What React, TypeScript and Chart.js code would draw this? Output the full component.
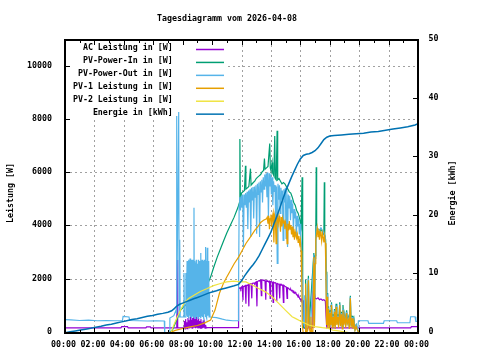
import React, { useEffect, useRef } from "react";
import { Chart, registerables } from "chart.js";

Chart.register(...registerables);

const TITLE = "Tagesdiagramm vom 2026-04-08";
const Y_TITLE = "Leistung [W]";
const Y2_TITLE = "Energie [kWh]";

const X_TICKS = [0, 2, 4, 6, 8, 10, 12, 14, 16, 18, 20, 22, 24];
const X_MINOR = [1, 3, 5, 7, 9, 11, 13, 15, 17, 19, 21, 23];
const X_TICK_LABELS = ["00:00", "02:00", "04:00", "06:00", "08:00", "10:00", "12:00", "14:00", "16:00", "18:00", "20:00", "22:00", "00:00"];
const Y_TICKS = [0, 2000, 4000, 6000, 8000, 10000];
const Y2_TICKS = [0, 10, 20, 30, 40, 50];

const SERIES_NAMES = [
  "AC Leistung in [W]",
  "PV-Power-In in [W]",
  "PV-Power-Out in [W]",
  "PV-1 Leistung in [W]",
  "PV-2 Leistung in [W]",
  "Energie in [kWh]",
];
const SERIES_COLORS = ["#9400d3", "#009e73", "#56b4e9", "#e69f00", "#f0e442", "#0072b2"];

// [hour, W]
const acLeistung: [number, number][] = [
  [0, 190], [3.8, 190], [3.85, 240], [4.25, 240], [4.3, 190], [5.5, 190], [5.55, 230], [5.8, 230], [5.85, 190],
  [7.6, 190], [7.63, 2740], [7.66, 190], [8.1, 190],
  [8.12, 450], [8.16, 150], [8.2, 520], [8.24, 180], [8.28, 400], [8.32, 160], [8.36, 560], [8.4, 200], [8.44, 480],
  [8.48, 170], [8.52, 620], [8.56, 200], [8.6, 500], [8.64, 180], [8.68, 560], [8.72, 220], [8.76, 720], [8.8, 200],
  [8.84, 520], [8.88, 180], [8.92, 600], [8.96, 200], [9.0, 480], [9.04, 170], [9.08, 560], [9.12, 200], [9.16, 450],
  [9.2, 180], [9.24, 520], [9.28, 160], [9.32, 400], [9.36, 180], [9.4, 480], [9.44, 200], [9.48, 380], [9.52, 180],
  [9.56, 300], [9.6, 190], [9.7, 200], [11.77, 200], [11.8, 1650],
  [11.85, 1680], [11.9, 1700], [11.95, 1650], [12.0, 1720], [12.05, 1750], [12.1, 1230], [12.12, 1740], [12.2, 1760],
  [12.25, 1780], [12.3, 1100], [12.33, 1790], [12.4, 1800], [12.45, 1810], [12.5, 1000], [12.53, 1830], [12.6, 1850],
  [12.65, 1840], [12.7, 1300], [12.73, 1860], [12.8, 1870], [12.85, 1880], [12.9, 1850], [12.95, 1900], [13.0, 1920],
  [13.05, 1000], [13.08, 1930], [13.15, 1950], [13.2, 1970], [13.25, 1960], [13.3, 1980], [13.35, 1400], [13.38, 1980],
  [13.45, 1990], [13.5, 1970], [13.55, 1980], [13.6, 1950], [13.65, 1250], [13.68, 1960], [13.75, 1940], [13.8, 1950],
  [13.85, 1920], [13.9, 1940], [13.95, 1300], [13.98, 1930], [14.05, 1920], [14.1, 1900], [14.15, 1150], [14.18, 1910],
  [14.25, 1880], [14.3, 1890], [14.35, 1850], [14.4, 1200], [14.43, 1860], [14.5, 1840], [14.55, 1820], [14.6, 1300],
  [14.63, 1830], [14.7, 1800], [14.75, 1810], [14.8, 1780], [14.85, 1150], [14.88, 1790], [14.95, 1760], [15.0, 1740],
  [15.05, 1720], [15.1, 1300], [15.13, 1700], [15.2, 1680], [15.25, 1650], [15.3, 1620], [15.35, 1640], [15.4, 1580],
  [15.45, 1600], [15.5, 1550], [15.55, 1570], [15.6, 1500], [15.65, 1530], [15.7, 1480], [15.75, 1450], [15.8, 1420],
  [15.85, 1350], [15.9, 1380], [15.95, 1300], [16.0, 1250], [16.05, 1280], [16.1, 1200], [16.15, 1230], [16.2, 1200],
  [16.25, 190], [16.5, 150], [16.6, 300], [16.65, 150], [16.8, 200], [16.85, 1500], [16.9, 1420], [16.95, 1550],
  [17.0, 1300], [17.1, 1280], [17.2, 1320], [17.3, 1250], [17.4, 1280], [17.5, 1230], [17.6, 1250], [17.7, 1200],
  [17.75, 640], [17.8, 190], [20, 190], [22, 190], [23.5, 190], [23.55, 240], [24, 240],
];

const pvPowerIn: [number, number][] = [
  [0, 0], [7.1, 0], [7.3, 110], [7.6, 500], [7.86, 860], [8.2, 1050], [8.75, 1230], [9.1, 1400], [9.42, 1610],
  [9.7, 1850], [9.9, 2100], [10.1, 2450], [10.35, 2850], [10.6, 3200], [10.8, 3480], [11.0, 3750], [11.25, 4050],
  [11.5, 4350], [11.75, 4700], [11.86, 4900], [11.89, 7280], [11.92, 5000], [12.0, 5250], [12.1, 5300], [12.2, 5350],
  [12.27, 6280], [12.3, 5400], [12.4, 5450], [12.5, 5500], [12.61, 6170], [12.65, 5550], [12.8, 5650], [12.9, 5700],
  [13.0, 5800], [13.1, 5850], [13.2, 5900], [13.3, 5950], [13.4, 6050], [13.5, 6100], [13.56, 6550], [13.6, 6150],
  [13.7, 6200], [13.8, 6250], [13.92, 7110], [13.96, 6200], [14.0, 6100], [14.08, 6400], [14.12, 6000], [14.2, 5900],
  [14.26, 7400], [14.3, 5800], [14.36, 5750], [14.42, 7590], [14.46, 5750], [14.55, 5800], [14.65, 5700], [14.75, 5600],
  [14.85, 5650], [14.95, 5600], [15.05, 5500], [15.15, 5400], [15.25, 5300], [15.35, 5250], [15.45, 5100], [15.55, 4900],
  [15.65, 4800], [15.75, 4600], [15.85, 4500], [15.95, 4300], [16.05, 4000], [16.12, 5850], [16.16, 1500], [16.2, 200],
  [16.32, 200], [16.36, 2000], [16.4, 100], [16.55, 2150], [16.6, 300], [16.92, 3000], [16.96, 400], [17.0, 2900],
  [17.05, 3700], [17.08, 6220], [17.11, 3900], [17.2, 3800], [17.3, 3750], [17.4, 3900], [17.5, 3800], [17.6, 3700],
  [17.63, 5660], [17.66, 3700], [17.72, 3500], [17.76, 2300], [17.8, 400], [17.82, 1500], [17.86, 300], [17.92, 1000],
  [17.97, 250], [18.02, 850], [18.07, 400], [18.12, 1150], [18.17, 300], [18.22, 700], [18.27, 350], [18.32, 900],
  [18.37, 250], [18.43, 1100], [18.48, 400], [18.55, 700], [18.6, 300], [18.68, 1150], [18.73, 350], [18.8, 800],
  [18.85, 250], [18.9, 1050], [18.95, 400], [19.02, 700], [19.08, 300], [19.15, 850], [19.2, 450], [19.28, 600],
  [19.33, 250], [19.4, 1400], [19.45, 300], [19.52, 650], [19.58, 250], [19.65, 500], [19.72, 150], [19.8, 300],
  [19.9, 100], [20.05, 0], [24, 0],
];

const pvPowerOut: [number, number][] = [
  [0, 500], [0.4, 490], [1.0, 470], [1.6, 480], [2.2, 460], [2.8, 470], [3.4, 460], [3.9, 460], [3.95, 620],
  [4.35, 600], [4.4, 470], [5.0, 460], [5.6, 450], [6.2, 460], [6.75, 450], [6.78, 0], [7.1, 0], [7.13, 560],
  [7.4, 650], [7.55, 860], [7.58, 8150], [7.61, 700], [7.73, 8300], [7.76, 600], [7.8, 3500], [7.83, 600], [8.07, 600],
  [8.09, 2250], [8.12, 600], [8.2, 600], [8.22, 2250], [8.25, 650],
  [8.3, 2700], [8.325, 600], [8.35, 2650], [8.375, 700], [8.4, 2750], [8.425, 550], [8.45, 2700], [8.475, 650],
  [8.5, 2800], [8.525, 600], [8.55, 2650], [8.575, 700], [8.6, 2750], [8.625, 550], [8.65, 2700], [8.675, 620],
  [8.7, 2750], [8.725, 600], [8.77, 4700], [8.79, 700], [8.82, 2700], [8.845, 550], [8.87, 2650], [8.895, 650],
  [8.92, 2750], [8.945, 600], [8.97, 2700], [8.995, 700], [9.02, 2600], [9.045, 550], [9.07, 2750], [9.095, 620],
  [9.12, 2700], [9.145, 600], [9.17, 2650], [9.195, 700], [9.22, 3000], [9.245, 550], [9.27, 2700], [9.295, 620],
  [9.32, 2750], [9.345, 600], [9.37, 2650], [9.395, 650], [9.42, 2700], [9.445, 550], [9.47, 2750], [9.495, 700],
  [9.52, 2600], [9.545, 600], [9.57, 3230], [9.595, 620], [9.62, 2700], [9.645, 550], [9.67, 3200], [9.695, 650],
  [9.72, 2650], [9.745, 700], [9.77, 2700], [9.795, 600], [9.82, 1500], [9.86, 600],
  [10.3, 580], [10.7, 520], [11.0, 480], [11.4, 460], [11.77, 460], [11.8, 1600], [11.84, 4800],
  [11.88, 5100], [11.93, 4600], [11.98, 5150], [12.03, 4700], [12.08, 5200], [12.13, 3230], [12.18, 5200], [12.23, 4800],
  [12.28, 5250], [12.33, 4700], [12.38, 5300], [12.43, 3900], [12.48, 5350], [12.53, 4900], [12.58, 5400], [12.63, 3600],
  [12.68, 5450], [12.73, 5000], [12.78, 5480], [12.83, 4300], [12.88, 5500], [12.93, 5100], [12.98, 5550], [13.03, 3730],
  [13.08, 5600], [13.13, 5200], [13.18, 5650], [13.23, 3600], [13.28, 5700], [13.33, 5300], [13.38, 5750], [13.43, 4900],
  [13.48, 5850], [13.53, 5400], [13.58, 5950], [13.63, 5500], [13.68, 6000], [13.73, 5100], [13.78, 6030], [13.83, 4350],
  [13.88, 6000], [13.93, 5500], [13.98, 5950], [14.03, 5200], [14.08, 5850], [14.13, 4800], [14.18, 5700], [14.23, 5300],
  [14.28, 5550], [14.33, 3980], [14.38, 5500], [14.43, 2610], [14.48, 5600], [14.53, 5000], [14.58, 5550], [14.63, 4490],
  [14.68, 5450], [14.73, 5000], [14.78, 5350], [14.83, 3480], [14.88, 5400], [14.93, 4900], [14.98, 5450], [15.03, 3550],
  [15.08, 5350], [15.13, 3230], [15.18, 5200], [15.23, 4700], [15.28, 5150], [15.33, 4230], [15.38, 5000], [15.43, 4500],
  [15.48, 4850], [15.53, 3800], [15.58, 4650], [15.63, 4300], [15.68, 4550], [15.73, 3600], [15.78, 4400], [15.83, 4000],
  [15.88, 4300], [15.93, 3700], [15.98, 4100], [16.03, 3600], [16.08, 3300], [16.12, 2000], [16.16, 1400], [16.2, 500],
  [16.25, 300], [16.3, 1420], [16.33, 200], [16.4, 100], [16.55, 2050], [16.6, 300], [16.7, 200], [16.92, 2950],
  [16.96, 300], [17.0, 2800], [17.05, 3600], [17.1, 3980], [17.2, 3900], [17.3, 3850], [17.4, 3950], [17.5, 3850],
  [17.6, 3750], [17.7, 3600], [17.75, 2200], [17.8, 350], [17.82, 1450], [17.86, 250], [17.92, 950], [17.97, 200],
  [18.02, 800], [18.07, 350], [18.12, 1100], [18.17, 250], [18.22, 650], [18.27, 300], [18.32, 850], [18.37, 200],
  [18.43, 1030], [18.48, 350], [18.55, 650], [18.6, 250], [18.68, 1100], [18.73, 300], [18.8, 750], [18.85, 200],
  [18.9, 900], [18.95, 350], [19.02, 650], [19.08, 250], [19.15, 800], [19.2, 400], [19.28, 550], [19.33, 200],
  [19.4, 1350], [19.45, 250], [19.52, 600], [19.58, 200], [19.65, 450], [19.72, 150], [19.8, 300], [19.9, 100],
  [19.95, 460], [20.6, 460], [20.65, 360], [21.65, 360], [21.7, 460], [22.55, 460], [22.6, 385], [23.45, 385],
  [23.5, 610], [23.8, 610], [23.85, 440], [24, 440],
];

const pv1Leistung: [number, number][] = [
  [0, 0], [7.05, 0], [7.5, 100], [8.0, 170], [8.5, 230], [9.0, 280], [9.5, 380], [9.9, 490], [10.2, 860], [10.5, 1490],
  [10.8, 1900], [11.0, 2100], [11.2, 2300], [11.5, 2600], [11.8, 2850], [12.0, 3050], [12.3, 3360], [12.6, 3600],
  [12.9, 3850], [13.1, 3980], [13.3, 4150], [13.5, 4230], [13.7, 4290],
  [13.75, 4350], [13.8, 4100], [13.85, 4400], [13.9, 3900], [13.95, 4300], [14.0, 4450], [14.05, 4000], [14.1, 4350],
  [14.15, 4500], [14.2, 3400], [14.25, 4400], [14.3, 4250], [14.35, 3350], [14.4, 4450], [14.45, 4300], [14.5, 4100],
  [14.55, 4400], [14.6, 4200], [14.65, 3800], [14.7, 4350], [14.75, 4000], [14.8, 4300], [14.85, 4150], [14.9, 4200],
  [14.95, 3900], [15.0, 4150], [15.05, 4000], [15.1, 3350], [15.15, 4100], [15.2, 3850], [15.25, 4200], [15.3, 3900],
  [15.35, 4050], [15.4, 3700], [15.45, 4000], [15.5, 3600], [15.55, 3900], [15.6, 3500], [15.65, 3800], [15.7, 3650],
  [15.75, 3550], [15.8, 3700], [15.85, 3400], [15.9, 3650], [15.95, 3350], [16.0, 3500], [16.05, 3100], [16.1, 1900],
  [16.13, 300], [16.2, 0], [16.32, 0], [16.36, 1860], [16.4, 0], [16.5, 100], [16.55, 1980], [16.6, 200], [16.68, 0],
  [16.72, 610], [16.76, 100], [16.85, 0], [16.92, 2850], [16.96, 200], [17.0, 2600], [17.05, 3480], [17.1, 3700],
  [17.15, 3930], [17.2, 3600], [17.25, 3850], [17.3, 3500], [17.35, 3800], [17.4, 3700], [17.45, 3450], [17.5, 3750],
  [17.55, 3600], [17.6, 3400], [17.65, 3650], [17.7, 3370], [17.74, 2100], [17.78, 300], [17.82, 1360], [17.86, 200],
  [17.92, 900], [17.97, 150], [18.02, 750], [18.07, 300], [18.12, 1050], [18.17, 200], [18.22, 600], [18.27, 250],
  [18.32, 800], [18.37, 150], [18.43, 980], [18.48, 300], [18.55, 600], [18.6, 200], [18.68, 1050], [18.73, 250],
  [18.8, 700], [18.85, 150], [18.9, 850], [18.95, 300], [19.02, 600], [19.08, 200], [19.15, 750], [19.2, 350],
  [19.28, 500], [19.33, 150], [19.4, 1300], [19.45, 200], [19.52, 550], [19.58, 150], [19.65, 400], [19.72, 100],
  [19.8, 250], [19.9, 80], [20.05, 0], [24, 0],
];

const pv2Leistung: [number, number][] = [
  [0, 0], [7.2, 0], [7.4, 300], [7.64, 610], [7.85, 850], [8.09, 1110], [8.4, 1300], [8.77, 1420], [9.2, 1560],
  [9.67, 1670], [10.1, 1780], [10.57, 1860], [11.0, 1920], [11.47, 1945], [11.93, 1920], [12.3, 1920], [12.72, 1800],
  [13.17, 1670], [13.63, 1545], [14.08, 1360], [14.53, 1110], [14.98, 860], [15.44, 610], [15.66, 550], [16.1, 420],
  [16.57, 300], [17.0, 240], [17.5, 200], [17.9, 175], [18.2, 110], [18.6, 80], [19.0, 40], [19.5, 0], [24, 0],
];

// [hour, kWh]
const energie: [number, number][] = [
  [0, 0.05], [0.35, 0.2], [0.7, 0.35], [1.05, 0.5], [1.4, 0.65], [1.75, 0.8], [2.1, 1.0], [2.45, 1.15], [2.8, 1.35],
  [3.15, 1.5], [3.5, 1.7], [3.85, 1.9], [4.2, 2.1], [4.55, 2.3], [4.9, 2.45], [5.25, 2.65], [5.6, 2.85], [5.95, 3.0],
  [6.3, 3.2], [6.65, 3.35], [7.0, 3.55], [7.25, 3.8], [7.45, 4.2], [7.6, 4.6], [7.8, 4.9], [8.0, 5.1], [8.25, 5.35],
  [8.5, 5.6], [8.75, 5.85], [9.0, 6.05], [9.25, 6.3], [9.5, 6.55], [9.75, 6.8], [10.0, 7.0], [10.3, 7.2], [10.6, 7.45],
  [10.9, 7.65], [11.2, 7.85], [11.5, 8.05], [11.8, 8.3], [12.0, 8.9], [12.2, 9.7], [12.4, 10.4], [12.6, 11.1],
  [12.8, 11.7], [13.0, 12.4], [13.2, 13.2], [13.4, 14.2], [13.6, 15.2], [13.8, 16.2], [14.0, 17.2], [14.2, 18.6],
  [14.4, 19.9], [14.6, 21.3], [14.8, 22.8], [15.0, 24.2], [15.2, 25.4], [15.4, 26.6], [15.6, 27.7], [15.8, 28.8],
  [16.0, 29.7], [16.2, 30.3], [16.4, 30.5], [16.6, 30.6], [16.8, 30.8], [17.0, 31.1], [17.2, 31.6], [17.4, 32.3],
  [17.6, 33.0], [17.8, 33.4], [18.0, 33.6], [18.3, 33.7], [18.8, 33.8], [19.3, 33.9], [19.8, 34.0], [20.3, 34.1],
  [20.8, 34.3], [21.3, 34.4], [21.8, 34.6], [22.3, 34.8], [22.8, 35.0], [23.3, 35.2], [23.8, 35.5], [24, 35.7],
];

const FONT = 'bold 8.3px "DejaVu Sans Mono", monospace';
const LEG_RIGHT = 228;
const LEG_BOTTOM = 120;

function toPoints(s: [number, number][]) {
  return s.map(([h, v]) => ({ x: h, y: v }));
}

const gnuplotPlugin = {
  id: "gnuplotLook",
  beforeDraw(chart: any) {
    const { ctx, width, height } = chart;
    ctx.save();
    ctx.fillStyle = "#ffffff";
    ctx.fillRect(0, 0, width, height);
    ctx.restore();
  },
  beforeDatasetsDraw(chart: any) {
    const { ctx, chartArea: a, scales } = chart;
    const xs = scales.x;
    const ys = scales.y;
    ctx.save();
    ctx.strokeStyle = "#a0a0a0";
    ctx.lineWidth = 1;
    ctx.setLineDash([2, 3]);
    for (const t of X_TICKS) {
      if (t <= 0 || t >= 24) continue;
      const px = Math.round(xs.getPixelForValue(t)) + 0.5;
      const top = px < LEG_RIGHT ? LEG_BOTTOM : a.top;
      ctx.beginPath();
      ctx.moveTo(px, top);
      ctx.lineTo(px, a.bottom);
      ctx.stroke();
    }
    for (const v of Y_TICKS) {
      if (v <= 0) continue;
      const py = Math.round(ys.getPixelForValue(v)) - 0.5;
      const left = py < LEG_BOTTOM ? LEG_RIGHT : a.left;
      ctx.beginPath();
      ctx.moveTo(left, py);
      ctx.lineTo(a.right, py);
      ctx.stroke();
    }
    ctx.setLineDash([]);
    ctx.fillStyle = "#ffffff";
    ctx.fillRect(a.left, a.top, LEG_RIGHT - a.left, LEG_BOTTOM - a.top);
    ctx.font = FONT;
    ctx.textAlign = "right";
    ctx.textBaseline = "alphabetic";
    for (let i = 0; i < SERIES_NAMES.length; i++) {
      const base = 50 + i * 12.93;
      ctx.fillStyle = "#000000";
      ctx.fillText(SERIES_NAMES[i], 172.8, base);
      ctx.strokeStyle = SERIES_COLORS[i];
      ctx.lineWidth = 1.5;
      ctx.beginPath();
      ctx.moveTo(196, base - 0.5);
      ctx.lineTo(224, base - 0.5);
      ctx.stroke();
    }
    ctx.restore();
  },
  afterDatasetsDraw(chart: any) {
    const { ctx, chartArea: a, scales } = chart;
    const xs = scales.x;
    const ys = scales.y;
    const y2 = scales.y2;
    ctx.save();
    ctx.strokeStyle = "#000000";
    ctx.lineWidth = 1;
    ctx.beginPath();
    for (const t of X_TICKS) {
      const px = Math.round(xs.getPixelForValue(t)) + 0.5;
      ctx.moveTo(px, a.bottom);
      ctx.lineTo(px, a.bottom - 5);
      ctx.moveTo(px, a.top);
      ctx.lineTo(px, a.top + 5);
    }
    for (const t of X_MINOR) {
      const px = Math.round(xs.getPixelForValue(t)) + 0.5;
      ctx.moveTo(px, a.bottom);
      ctx.lineTo(px, a.bottom - 3);
      ctx.moveTo(px, a.top);
      ctx.lineTo(px, a.top + 3);
    }
    for (const v of Y_TICKS) {
      const py = Math.round(ys.getPixelForValue(v)) - 0.5;
      ctx.moveTo(a.left, py);
      ctx.lineTo(a.left + 5, py);
    }
    for (const v of Y2_TICKS) {
      const py = Math.round(y2.getPixelForValue(v)) - 0.5;
      ctx.moveTo(a.right, py);
      ctx.lineTo(a.right - 5, py);
    }
    ctx.stroke();
    ctx.lineWidth = 2;
    ctx.strokeRect(a.left, a.top, a.right - a.left, a.bottom - a.top);
    ctx.fillStyle = "#000000";
    ctx.font = FONT;
    ctx.textBaseline = "alphabetic";
    ctx.textAlign = "right";
    for (const v of Y_TICKS) {
      const py = ys.getPixelForValue(v);
      ctx.fillText(String(v), 52, py + 1);
    }
    ctx.textAlign = "left";
    for (const v of Y2_TICKS) {
      const py = y2.getPixelForValue(v);
      ctx.fillText(String(v), 428.5, py + 1);
    }
    ctx.textAlign = "center";
    X_TICKS.forEach((t, i) => {
      const px = xs.getPixelForValue(t);
      ctx.fillText(X_TICK_LABELS[i], px - 1.5, 347);
    });
    ctx.fillText(TITLE, 227, 20.7);
    ctx.save();
    ctx.translate(13, 193);
    ctx.rotate(-Math.PI / 2);
    ctx.fillText(Y_TITLE, 0, 0);
    ctx.restore();
    ctx.save();
    ctx.translate(455, 193);
    ctx.rotate(-Math.PI / 2);
    ctx.fillText(Y2_TITLE, 0, 0);
    ctx.restore();
    ctx.restore();
  },
};

export default function App() {
  const canvasRef = useRef<HTMLCanvasElement | null>(null);

  useEffect(() => {
    const canvas = canvasRef.current;
    if (!canvas) return;
    const lw = 1.2;
    const chart = new Chart(canvas, {
      type: "line",
      data: {
        datasets: [
          { label: SERIES_NAMES[0], data: toPoints(acLeistung), borderColor: SERIES_COLORS[0], borderWidth: lw, yAxisID: "y", order: 6 },
          { label: SERIES_NAMES[1], data: toPoints(pvPowerIn), borderColor: SERIES_COLORS[1], borderWidth: lw, yAxisID: "y", order: 5 },
          { label: SERIES_NAMES[2], data: toPoints(pvPowerOut), borderColor: SERIES_COLORS[2], borderWidth: lw, yAxisID: "y", order: 4 },
          { label: SERIES_NAMES[3], data: toPoints(pv1Leistung), borderColor: SERIES_COLORS[3], borderWidth: lw, yAxisID: "y", order: 3 },
          { label: SERIES_NAMES[4], data: toPoints(pv2Leistung), borderColor: SERIES_COLORS[4], borderWidth: lw, yAxisID: "y", order: 2 },
          { label: SERIES_NAMES[5], data: toPoints(energie), borderColor: SERIES_COLORS[5], borderWidth: 1.5, yAxisID: "y2", order: 1 },
        ] as any,
      },
      options: {
        responsive: false,
        maintainAspectRatio: false,
        animation: false,
        events: [],
        layout: { padding: { left: 65, right: 62, top: 40, bottom: 27 } },
        elements: { point: { radius: 0 }, line: { tension: 0, fill: false } },
        scales: {
          x: { type: "linear", min: 0, max: 24, display: false },
          y: { type: "linear", min: 0, max: 11000, display: false },
          y2: { type: "linear", min: 0, max: 50, display: false, position: "right" },
        },
        plugins: { legend: { display: false }, tooltip: { enabled: false }, title: { display: false } },
      },
      plugins: [gnuplotPlugin],
    });
    return () => chart.destroy();
  }, []);

  return (
    <div style={{ position: "fixed", left: 0, top: 0, width: 480, height: 360, background: "#ffffff" }}>
      <canvas ref={canvasRef} width={480} height={360} style={{ display: "block", width: 480, height: 360 }} />
    </div>
  );
}
